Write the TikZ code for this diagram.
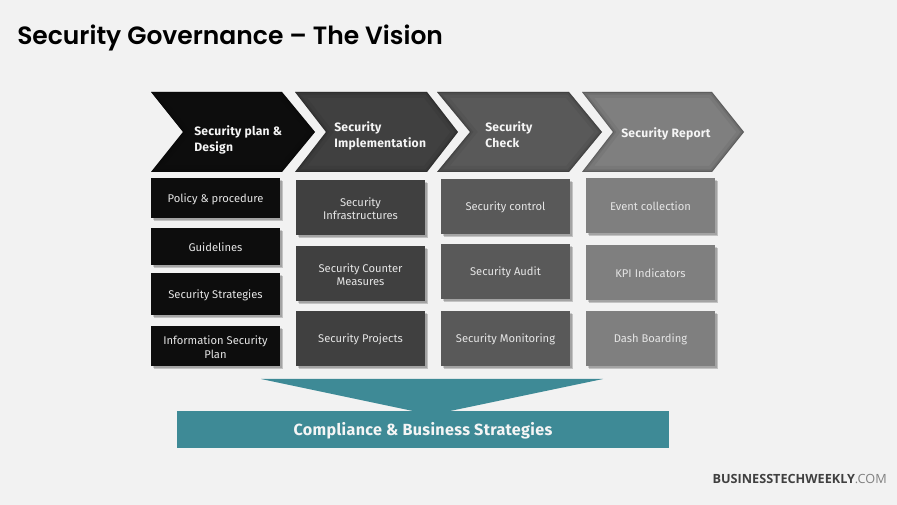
\documentclass[tikz,border=0pt]{standalone}
\usepackage{fontspec}
\setmainfont{Fira Sans}
\newfontfamily\titlefont{Poppins SemiBold}
\newfontfamily\brandfont{Open Sans}
\definecolor{bgc}{HTML}{F2F2F2}
\definecolor{cA}{HTML}{0D0D0D}
\definecolor{cB}{HTML}{404040}
\definecolor{cC}{HTML}{595959}
\definecolor{cD}{HTML}{7F7F7F}
\definecolor{teal}{HTML}{3E8A96}
\newcommand{\chev}[5]{% left, notch, shoulder, tip, colour
  \fill[#5] (#1,92)--(#3,92)--(#4,132)--(#3,172)--(#1,172)--(#2,132)--cycle;
  \begin{scope}
    \clip (#1,92)--(#3,92)--(#4,132)--(#3,172)--(#1,172)--(#2,132)--cycle;
    \draw[black,opacity=.05,line width=9pt,line join=miter] (#1,92)--(#3,92)--(#4,132)--(#3,172)--(#1,172)--(#2,132)--cycle;
    \draw[black,opacity=.08,line width=4pt,line join=miter] (#1,92)--(#3,92)--(#4,132)--(#3,172)--(#1,172)--(#2,132)--cycle;
    \draw[black,opacity=.14,line width=1.5pt,line join=miter] (#1,92)--(#3,92)--(#4,132)--(#3,172)--(#1,172)--(#2,132)--cycle;
  \end{scope}}
\tikzset{
  x=0.75pt,y=-0.75pt,
  softshadow/.style={
    preaction={fill=black,opacity=.08,transform canvas={shift={(2.6pt,-2.6pt)}}},
    preaction={fill=black,opacity=.12,transform canvas={shift={(1.9pt,-1.9pt)}}},
    preaction={fill=black,opacity=.16,transform canvas={shift={(1.2pt,-1.2pt)}}}},
  box/.style={softshadow,rectangle,inner sep=0pt,minimum width=96.75pt},
  boxlabel/.style={inner sep=0pt,align=center,text=white!90!black,yshift=-0.8pt,
    font=\fontsize{8.4}{10pt}\selectfont},
  chevtext/.style={text=white!96!black,align=left,anchor=west,inner sep=0pt,
    font=\fontsize{9.1}{12pt}\selectfont\bfseries\addfontfeature{LetterSpace=2}},
  bartext/.style={inner sep=0pt,text=white!96!black,yshift=-0.8pt,
    font=\fontsize{12.1}{14pt}\selectfont\bfseries\addfontfeature{LetterSpace=2}},
}
\begin{document}
\begin{tikzpicture}
\useasboundingbox (0,0) rectangle (897,505);
\fill[bgc] (0,0) rectangle (897,505);
\node[anchor=west,inner sep=0pt,font=\fontsize{18.75}{24pt}\selectfont\titlefont,text=black] (title) at (17,37.5) {Security Governance – The Vision};

\chev{582}{613}{712}{744}{cD}
\chev{437}{470}{569}{602}{cC}
\chev{295}{326}{427}{458}{cB}
\chev{151}{183}{282}{315}{cA}

\node[chevtext] (h1) at (194,139.5) {Security plan \&\\Design};
\node[chevtext] (h2) at (334,136) {Security\\Implementation};
\node[chevtext] (h3) at (485,135) {Security\\Check};
\node[chevtext] (h4) at (621,133.5) {Security Report};

% column 1
\node[box,fill=cA,minimum height=30pt,label={[boxlabel]center:Policy \& procedure}] (a1) at (215.5,198) {};
\node[box,fill=cA,minimum height=27.75pt,label={[boxlabel]center:Guidelines}] (a2) at (215.5,246.5) {};
\node[box,fill=cA,minimum height=31.5pt,label={[boxlabel]center:Security Strategies}] (a3) at (215.5,294) {};
\node[box,fill=cA,minimum height=30pt,label={[boxlabel]center:Information Security\\Plan}] (a4) at (215.5,346) {};
% column 2
\node[box,fill=cB,minimum height=41.25pt,label={[boxlabel]center:Security\\Infrastructures}] (b1) at (360.5,207.5) {};
\node[box,fill=cB,minimum height=41.25pt,label={[boxlabel]center:Security Counter\\Measures}] (b2) at (360.5,273.5) {};
\node[box,fill=cB,minimum height=41.25pt,label={[boxlabel]center:Security Projects}] (b3) at (360.5,338.5) {};
% column 3
\node[box,fill=cC,minimum height=41.25pt,label={[boxlabel]center:Security control}] (c1) at (505.5,206.5) {};
\node[box,fill=cC,minimum height=41.25pt,label={[boxlabel]center:Security Audit}] (c2) at (505.5,271.5) {};
\node[box,fill=cC,minimum height=41.25pt,label={[boxlabel]center:Security Monitoring}] (c3) at (505.5,338.5) {};
% column 4
\node[box,fill=cD,minimum height=41.25pt,label={[boxlabel]center:Event collection}] (d1) at (650.5,205.5) {};
\node[box,fill=cD,minimum height=41.25pt,label={[boxlabel]center:KPI Indicators}] (d2) at (650.5,272.5) {};
\node[box,fill=cD,minimum height=41.25pt,label={[boxlabel]center:Dash Boarding}] (d3) at (650.5,338.5) {};

% teal funnel and bar
\fill[teal] (261,379)--(603,379)--(450,411)--(413,411)--cycle;
\node[fill=teal,inner sep=0pt,minimum width=369pt,minimum height=27.75pt,
  label={[bartext]center:Compliance \& Business Strategies}] (bar) at (423,429.5) {};

\node[anchor=east,inner sep=0pt,font=\fontsize{9.5}{11pt}\selectfont\brandfont,text=black!75] (brand) at (887,479) {\textbf{BUSINESSTECHWEEKLY}\textcolor{black!50}{.COM}};
\end{tikzpicture}
\end{document}
